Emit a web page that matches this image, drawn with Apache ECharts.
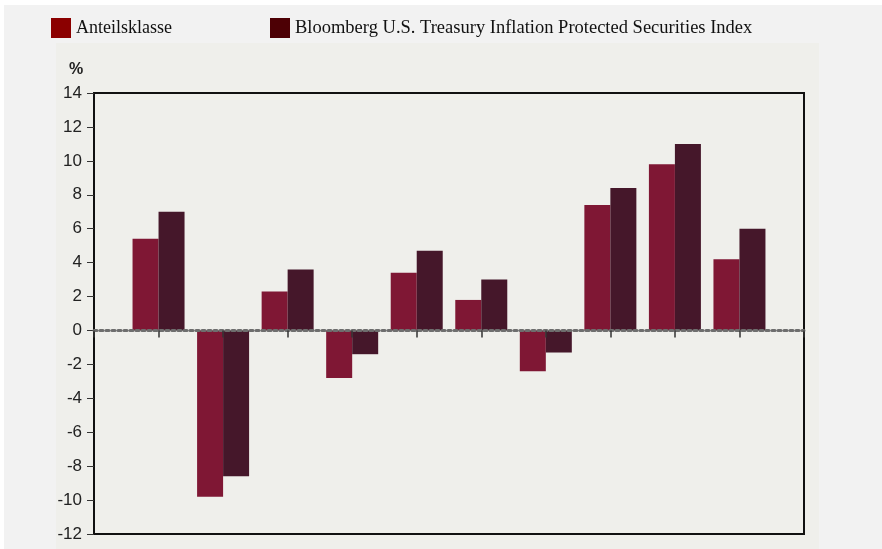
<!DOCTYPE html>
<html>
<head>
<meta charset="utf-8">
<script src="https://cdn.jsdelivr.net/npm/echarts@6/dist/echarts.min.js"></script>
<style>
  html, body { margin: 0; padding: 0; background: #ffffff; }
  #chart { width: 882px; height: 549px; }
</style>
</head>
<body>
<div id="chart"></div>
<script>
// Kategorien (leer an den Rändern, damit die Gruppen zwischen den Rahmen liegen)
var categories = ['', '1', '2', '3', '4', '5', '6', '7', '8', '9', '10', '']
var seriesNames = ['Anteilsklasse', 'Bloomberg U.S. Treasury Inflation Protected Securities Index']
var anteilsklasse = [null, 5.4, -9.8, 2.3, -2.8, 3.4, 1.8, -2.4, 7.4, 9.8, 4.2, null]
var benchmark = [null, 7.0, -8.6, 3.6, -1.4, 4.7, 3.0, -1.3, 8.4, 11.0, 6.0, null]
var yTicks = { min: -12, max: 14, interval: 2 }

var myChart = echarts.init(document.getElementById('chart'))

var option = {
    backgroundColor: '#ffffff',
    animation: false,
    graphic: [
        { type: 'rect', z: -10, shape: { x: 4, y: 5, width: 878, height: 544 }, style: { fill: '#f2f2f2' } },
        { type: 'rect', z: -9, shape: { x: 56, y: 43, width: 763, height: 506 }, style: { fill: '#efefeb' } }
    ],
    title: {
        text: '%',
        left: 64,
        top: 57,
        textStyle: { fontFamily: 'Liberation Sans', fontWeight: 'bold', fontSize: 16, color: '#222' }
    },
    legend: [{
        left: 46,
        top: 13,
        itemWidth: 20,
        itemHeight: 20,
        icon: 'rect',
        textStyle: { fontFamily: 'Liberation Serif', fontSize: 18, color: '#111' },
        data: [{ name: seriesNames[0], itemStyle: { color: '#8b0000' } }]
    }, {
        left: 265,
        top: 13,
        itemWidth: 20,
        itemHeight: 20,
        icon: 'rect',
        textStyle: { fontFamily: 'Liberation Serif', fontSize: 18.5, color: '#111' },
        data: [{ name: seriesNames[1], itemStyle: { color: '#4d0005' } }]
    }],
    grid: {
        left: 94,
        top: 93,
        right: 78,
        bottom: 15,
        show: true,
        backgroundColor: '#efefeb',
        borderColor: '#111',
        borderWidth: 2,
        containLabel: false
    },
    xAxis: {
        type: 'category',
        data: categories,
        boundaryGap: false,
        z: 5,
        axisLine: { onZero: true, lineStyle: { color: '#6e6e6e', width: 3, type: [3, 3] } },
        axisTick: { show: true, inside: false, length: 7, interval: 0, lineStyle: { color: '#333', width: 1.5 } },
        axisLabel: { show: false },
        splitLine: { show: false }
    },
    yAxis: {
        type: 'value',
        min: yTicks.min,
        max: yTicks.max,
        interval: yTicks.interval,
        axisLine: { show: true, onZero: false, lineStyle: { color: '#111', width: 2 } },
        axisTick: { show: true, length: 7, lineStyle: { color: '#333' } },
        axisLabel: { margin: 12, fontFamily: 'Liberation Sans Narrow, Liberation Sans', fontSize: 17, color: '#222' },
        splitLine: { show: false }
    },
    series: [{
        name: seriesNames[0],
        type: 'bar',
        barWidth: 26,
        barGap: '0%',
        itemStyle: { color: '#7f1734' },
        data: anteilsklasse
    }, {
        name: seriesNames[1],
        type: 'bar',
        barWidth: 26,
        barGap: '0%',
        itemStyle: { color: '#45172a' },
        data: benchmark
    }]
}
myChart.setOption(option)
</script>
</body>
</html>
